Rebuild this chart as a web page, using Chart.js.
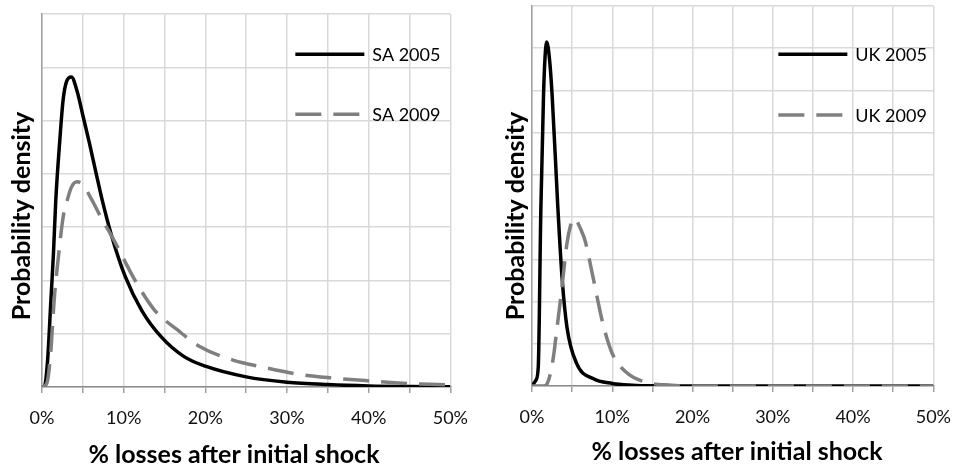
<!DOCTYPE html>
<html>
<head>
<meta charset="utf-8">
<script src="https://cdn.jsdelivr.net/npm/chart.js@4"></script>
<style>
  html, body { margin: 0; padding: 0; background: #fff; }
  #wrap { position: relative; width: 965px; height: 471px; }
  .box { position: absolute; top: 0; height: 471px; }
</style>
</head>
<body>
<div id="wrap">
  <div class="box" style="left:0;width:482px"><canvas id="saChart" width="482" height="471"></canvas></div>
  <div class="box" style="left:482px;width:483px"><canvas id="ukChart" width="483" height="471"></canvas></div>
</div>
<script>
// x axis: % losses, gridline every 5, label every 10
const xTicks = [0, 5, 10, 15, 20, 25, 30, 35, 40, 45, 50];
const xTitle = '% losses after initial shock';
const yTitle = 'Probability density';

// South Africa (y in gridline units)
const saX2005 = [0, 0.3, 0.69, 1.09, 1.4, 1.69, 2.18, 2.58, 3.0, 3.6, 4.3, 5.0, 5.8, 6.6, 7.35, 8.5, 10.2, 12.2, 14.6, 17.4, 20, 25, 30, 35, 40, 45, 50];
const saY2005 = [0, 0.02, 0.51, 1.63, 2.5, 3.51, 4.63, 5.38, 5.73, 5.82, 5.55, 5.1, 4.58, 4.03, 3.52, 2.85, 2.07, 1.44, 0.94, 0.57, 0.39, 0.19, 0.09, 0.045, 0.02, 0.01, 0.005];
const saX2009 = [0, 0.3, 0.69, 1.09, 1.49, 2.1, 2.6, 3.1, 3.6, 4.3, 5.0, 6.1, 7.2, 8.5, 9.0, 11.4, 13.8, 16.6, 19.3, 23.3, 27.4, 31.4, 35.5, 39.6, 43.7, 49.5];
const saY2009 = [0, 0.02, 0.13, 0.69, 1.63, 2.57, 3.2, 3.51, 3.75, 3.85, 3.8, 3.51, 3.19, 2.84, 2.7, 2.0, 1.44, 1.07, 0.76, 0.51, 0.36, 0.24, 0.17, 0.12, 0.075, 0.04];

// United Kingdom (right panel)
const ukX2005 = [0, 0.49, 0.78, 1.1, 1.43, 1.6, 1.83, 2.2, 2.52, 3.2, 3.74, 4.35, 5.57, 7.6, 10, 12.5, 15, 20, 30, 40, 50];
const ukY2005 = [0, 0.14, 0.45, 4.16, 6.85, 7.7, 8.15, 7.7, 6.85, 4.3, 2.58, 1.4, 0.53, 0.175, 0.06, 0.02, 0.005, 0, 0, 0, 0];
const ukX2009 = [0, 1.5, 1.9, 2.3, 2.73, 3.1, 3.54, 4.0, 4.35, 4.8, 5.17, 5.6, 6.1, 6.6, 7.6, 8.83, 10, 11.7, 14.1, 17.4, 20, 30, 40, 50];
const ukY2009 = [0, 0, 0.06, 0.3, 0.77, 1.35, 2.03, 2.8, 3.37, 3.8, 3.97, 3.9, 3.7, 3.45, 2.58, 1.48, 0.77, 0.33, 0.095, 0.02, 0, 0, 0, 0];

const pts = (xs, ys) => xs.map((x, i) => ({ x: x, y: ys[i] }));

// legend inside the plot + axis titles, placed relative to the chart area
const panelDecor = {
  id: 'panelDecor',
  afterDraw(chart, args, o) {
    const ctx = chart.ctx;
    const a = chart.chartArea;
    ctx.save();
    chart.data.datasets.forEach((ds, i) => {
      const y = a.top + o.legendTop + i * o.legendGap;
      const x0 = a.right + o.legendX;
      ctx.beginPath();
      ctx.setLineDash(ds.borderDash || []);
      ctx.lineWidth = ds.borderWidth;
      ctx.strokeStyle = ds.borderColor;
      ctx.moveTo(x0, y);
      ctx.lineTo(x0 + 69, y);
      ctx.stroke();
      ctx.setLineDash([]);
      ctx.fillStyle = '#000';
      ctx.font = '18px Lato';
      ctx.textAlign = 'left';
      ctx.textBaseline = 'middle';
      ctx.fillText(ds.label, x0 + 77, y + 1);
    });
    ctx.fillStyle = '#000';
    ctx.font = 'bold 25px Lato';
    ctx.textAlign = 'center';
    ctx.textBaseline = 'middle';
    ctx.fillText(xTitle, a.left + o.xTitleX, a.bottom + o.xTitleY);
    ctx.translate(a.left + o.yTitleX, a.top + o.yTitleY);
    ctx.rotate(-Math.PI / 2);
    ctx.fillText(yTitle, 0, 0);
    ctx.restore();
  }
};

function makeChart(id, labels, series, yMax, pad, xHeight, decor) {
  const solid = { label: labels[0], data: pts(series[0], series[1]), borderColor: '#000', borderWidth: 3.5,
    pointRadius: 0, fill: false, cubicInterpolationMode: 'monotone', order: 1 };
  const dashed = { label: labels[1], data: pts(series[2], series[3]), borderColor: '#7f7f7f', borderWidth: 3.5,
    borderDash: [26, 12], pointRadius: 0, fill: false, cubicInterpolationMode: 'monotone', order: 0 };
  return new Chart(document.getElementById(id), {
    type: 'line',
    data: { datasets: [solid, dashed] },
    plugins: [panelDecor],
    options: {
      responsive: false,
      animation: false,
      layout: { padding: pad },
      plugins: { legend: { display: false }, tooltip: { enabled: false }, panelDecor: decor },
      scales: {
        x: {
          type: 'linear', min: 0, max: 50,
          afterBuildTicks: s => { s.ticks = xTicks.map(v => ({ value: v })); },
          afterFit: s => { s.height = xHeight; },
          ticks: { autoSkip: false, maxRotation: 0, padding: 14, color: '#111',
            font: { family: 'Lato', size: 18 },
            callback: v => (v % 10 === 0 ? v + '%' : '') },
          grid: { color: '#d9d9d9', lineWidth: 1.5, tickLength: 6, tickColor: '#a0a0a0', tickWidth: 1.5 },
          border: { color: '#8c8c8c', width: 1.5 }
        },
        y: {
          min: 0, max: yMax,
          afterFit: s => { s.width = 0; },
          ticks: { display: false, stepSize: 1 },
          grid: { color: '#d9d9d9', lineWidth: 1.5, drawTicks: false },
          border: { color: '#a0a0a0', width: 1.5 }
        }
      }
    }
  });
}

makeChart('saChart', ['SA 2005', 'SA 2009'], [saX2005, saY2005, saX2009, saY2009], 7,
  { left: 42, right: 27, top: 14, bottom: 0 }, 84,
  { legendX: -155, legendTop: 40.3, legendGap: 60, xTitleX: 192, xTitleY: 68, yTitleX: -20, yTitleY: 202 });

makeChart('ukChart', ['UK 2005', 'UK 2009'], [ukX2005, ukY2005, ukX2009, ukY2009], 9,
  { left: 50, right: 23, top: 6, bottom: 0 }, 85,
  { legendX: -155, legendTop: 48.3, legendGap: 60.7, xTitleX: 205, xTitleY: 66, yTitleX: -16, yTitleY: 210 });
</script>
</body>
</html>
